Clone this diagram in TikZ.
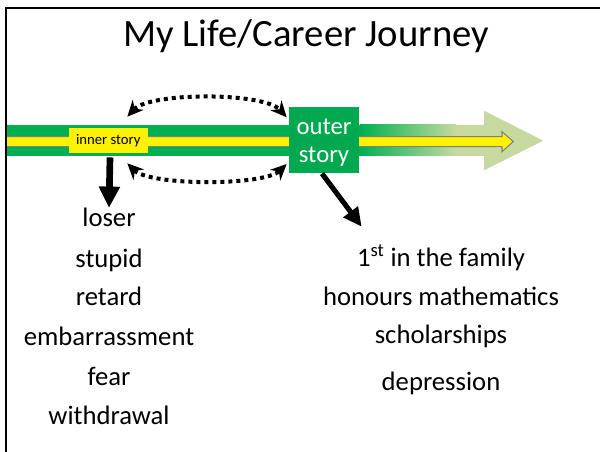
\documentclass[tikz,border=0pt]{standalone}
\usepackage{fontspec}
\setmainfont{Carlito}
\usepackage{tikz}
\usetikzlibrary{arrows.meta,calc}
\definecolor{bandgreen}{RGB}{0,176,80}
\definecolor{boxgreen}{RGB}{0,168,80}
\definecolor{palegreen}{RGB}{198,218,160}
\definecolor{rimgray}{RGB}{128,128,128}

\begin{document}
\begin{tikzpicture}[x=0.75pt,y=-0.75pt]
	\tikzstyle{term}=[anchor=base,inner sep=0pt,font=\fontsize{20}{24}\selectfont]
	\tikzstyle{dotarrow}=[line width=3pt,dash pattern=on 3pt off 3pt,>={Stealth[length=12pt,width=11pt]},<->]
	\tikzstyle{fatarrow}=[line width=5pt,-{Triangle[length=16pt,width=15pt]}]

	\useasboundingbox (0,0) rectangle (600,452);
	\draw[line width=1.7pt] (6,452) -- (6,7.8) -- (600,7.8);

	\node[anchor=base,font=\fontsize{29}{34}\selectfont](title) at (306,46.7){My Life/Career Journey};

	\fill[bandgreen] (7,125) rectangle (361,156);
	\shade[left color=bandgreen,right color=palegreen] (360,125) rectangle (456,156);
	\fill[palegreen] (455,125) -- (484,125) -- (484,110.7) -- (543.3,140.7) -- (484,170.3) -- (484,156) -- (455,156) -- cycle;
	\draw[rimgray,fill=yellow,line width=0.8pt] (7,136.7) -- (502,136.7) -- (502,131.7) -- (513.3,141.5) -- (502,151.7) -- (502,146.7) -- (7,146.7);

	\node[fill=yellow,minimum width=59pt,minimum height=18.75pt,inner sep=0pt,font=\fontsize{11}{13}\selectfont](inner) at (108.3,140.2){inner story};
	\node[fill=boxgreen,text=white,align=center,minimum width=52.5pt,minimum height=50pt,inner sep=0pt,font=\fontsize{18.5}{21.3}\selectfont](outer) at (324,140){\rule{0pt}{15.5pt}outer\\story};

	\node[term](loser) at (109,226.7){loser};
	\node[term](stupid) at (109,267.7){stupid};
	\node[term](retard) at (109,306){retard};
	\node[term](embarr) at (109,345){embarrassment};
	\node[term](fear) at (109,385){fear};
	\node[term](withdr) at (109,424){withdrawal};

	\node[term](first) at (441,266.7){1\textsuperscript{st} in the family};
	\node[term](honours) at (441,306){honours mathematics};
	\node[term](scholar) at (441,343.3){scholarships};
	\node[term](depress) at (441,390){depression};

	\coordinate (uleft) at (127.3,116.7);
	\coordinate (uright) at (286.7,117.3);
	\coordinate (lleft) at (127.3,163.3);
	\coordinate (lright) at (286.7,164);
	\coordinate (onward) at (361.7,226.7);

	\draw[dotarrow] (uleft) .. controls (150,92) and (264,92) .. (uright);
	\draw[dotarrow] (lleft) .. controls (150,186) and (264,186) .. (lright);

	\draw[fatarrow] ($(inner.south)+(1.7,4.5)$) -- (loser.north);
	\draw[line width=3.8pt,-{Triangle[length=14pt,width=13pt]}] ($(outer.south)+(-2,0)$) -- (onward);

\end{tikzpicture}
\end{document}
